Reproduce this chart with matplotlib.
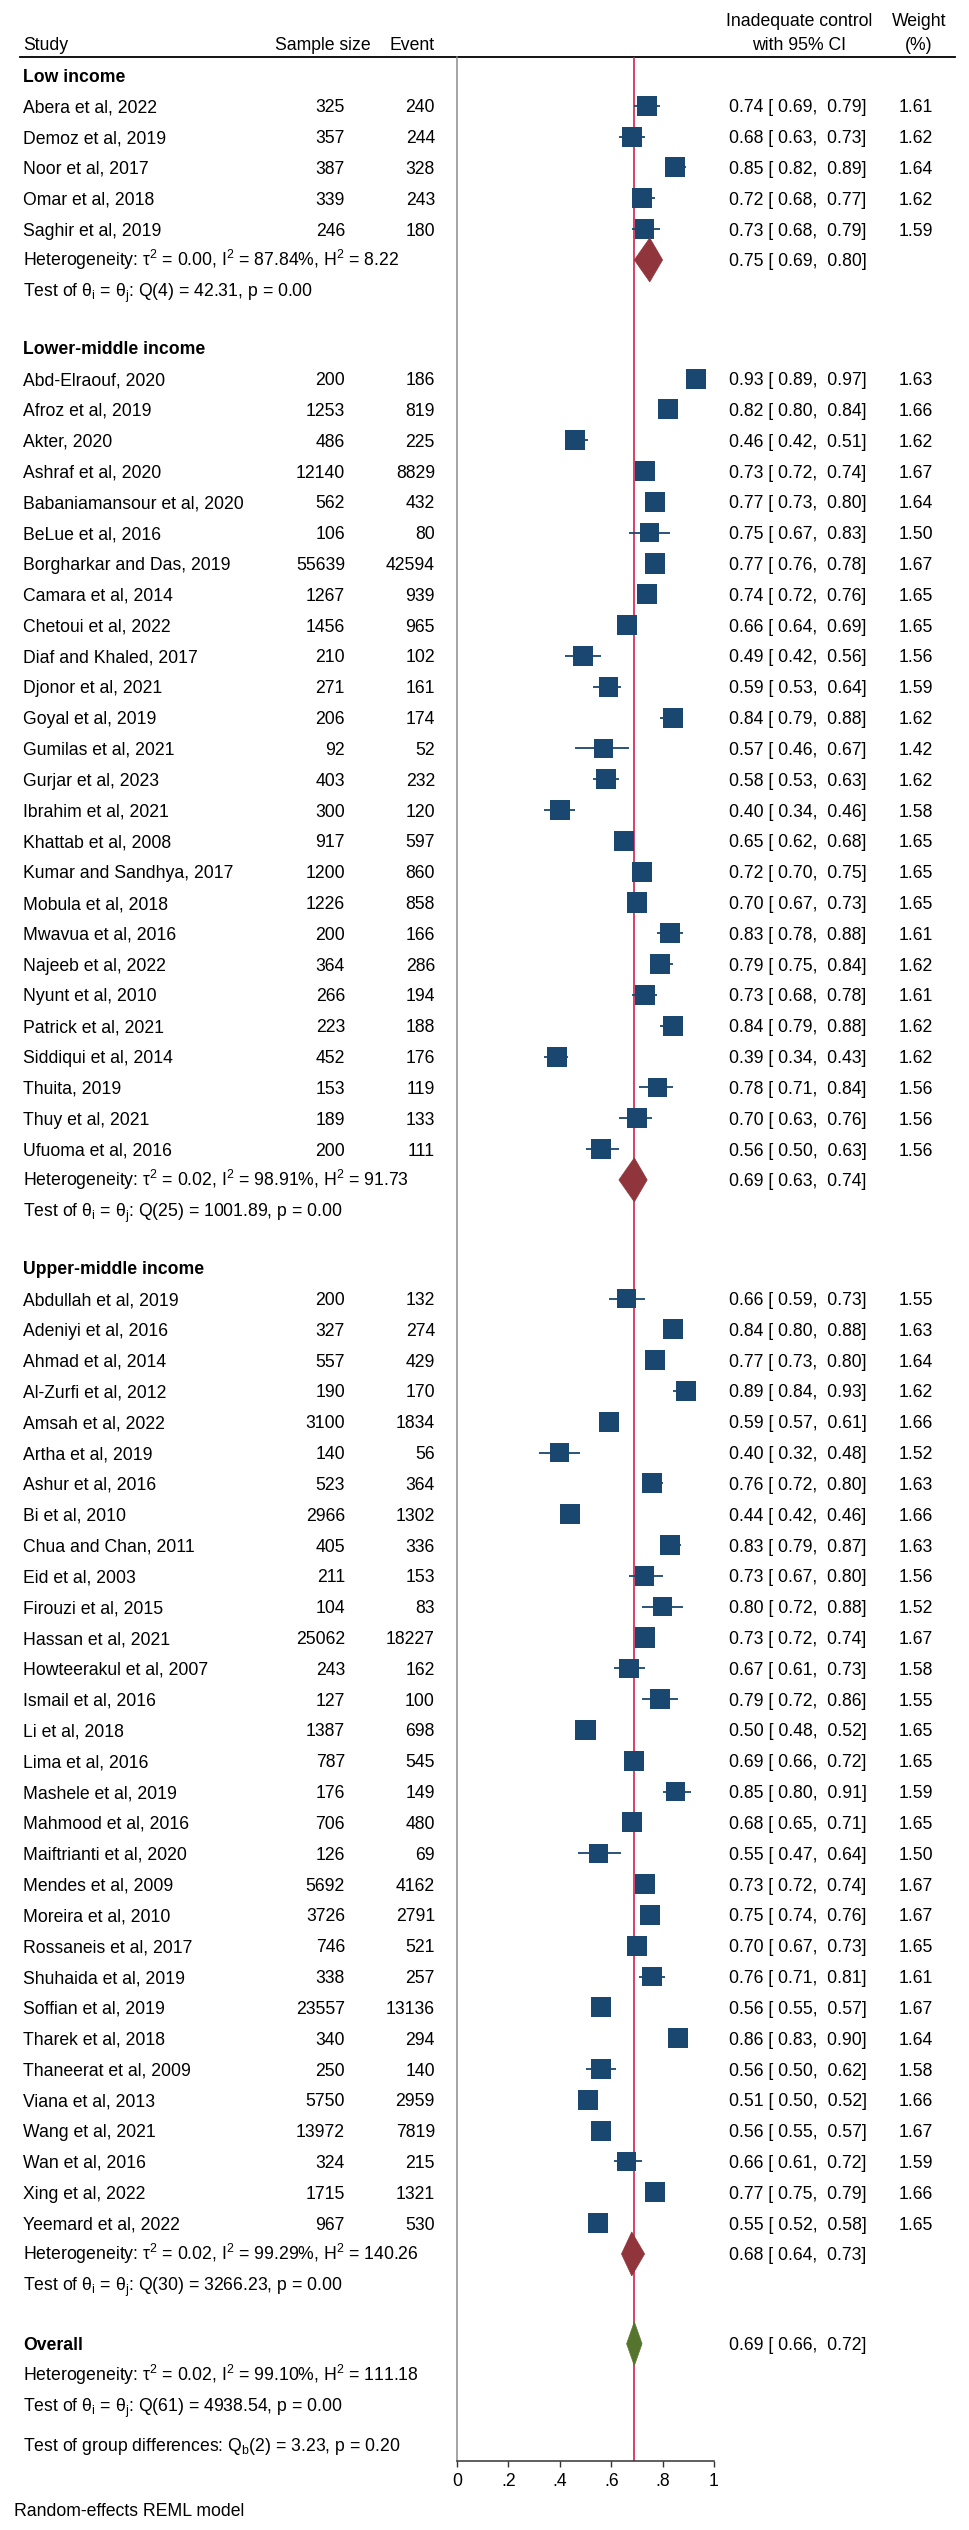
import numpy as np
import matplotlib.pyplot as plt
from matplotlib.patches import Polygon

plt.rcParams['font.family'] = ['Liberation Sans', 'DejaVu Sans']
plt.rcParams['mathtext.fontset'] = 'custom'
plt.rcParams['mathtext.rm'] = 'Liberation Sans'
plt.rcParams['mathtext.it'] = 'Liberation Sans'
plt.rcParams['mathtext.default'] = 'regular'

# ---------------- data ----------------
low_studies = ['Abera et al, 2022', 'Demoz et al, 2019', 'Noor et al, 2017',
               'Omar et al, 2018', 'Saghir et al, 2019']
low_n = [325, 357, 387, 339, 246]
low_events = [240, 244, 328, 243, 180]
low_es = [0.74, 0.68, 0.85, 0.72, 0.73]
low_lo = [0.69, 0.63, 0.82, 0.68, 0.68]
low_hi = [0.79, 0.73, 0.89, 0.77, 0.79]
low_w = [1.61, 1.62, 1.64, 1.62, 1.59]
low_pooled = [0.75, 0.69, 0.80]
low_het = ['0.00', '87.84%', '8.22']
low_q = ['4', '42.31', '0.00']

lmi_studies = ['Abd-Elraouf, 2020', 'Afroz et al, 2019', 'Akter, 2020', 'Ashraf et al, 2020',
               'Babaniamansour et al, 2020', 'BeLue et al, 2016', 'Borgharkar and Das, 2019',
               'Camara et al, 2014', 'Chetoui et al, 2022', 'Diaf and Khaled, 2017',
               'Djonor et al, 2021', 'Goyal et al, 2019', 'Gumilas et al, 2021',
               'Gurjar et al, 2023', 'Ibrahim et al, 2021', 'Khattab et al, 2008',
               'Kumar and Sandhya, 2017', 'Mobula et al, 2018', 'Mwavua et al, 2016',
               'Najeeb et al, 2022', 'Nyunt et al, 2010', 'Patrick et al, 2021',
               'Siddiqui et al, 2014', 'Thuita, 2019', 'Thuy et al, 2021', 'Ufuoma et al, 2016']
lmi_n = [200, 1253, 486, 12140, 562, 106, 55639, 1267, 1456, 210, 271, 206, 92, 403, 300,
         917, 1200, 1226, 200, 364, 266, 223, 452, 153, 189, 200]
lmi_events = [186, 819, 225, 8829, 432, 80, 42594, 939, 965, 102, 161, 174, 52, 232, 120,
              597, 860, 858, 166, 286, 194, 188, 176, 119, 133, 111]
lmi_es = [0.93, 0.82, 0.46, 0.73, 0.77, 0.75, 0.77, 0.74, 0.66, 0.49, 0.59, 0.84, 0.57,
          0.58, 0.40, 0.65, 0.72, 0.70, 0.83, 0.79, 0.73, 0.84, 0.39, 0.78, 0.70, 0.56]
lmi_lo = [0.89, 0.80, 0.42, 0.72, 0.73, 0.67, 0.76, 0.72, 0.64, 0.42, 0.53, 0.79, 0.46,
          0.53, 0.34, 0.62, 0.70, 0.67, 0.78, 0.75, 0.68, 0.79, 0.34, 0.71, 0.63, 0.50]
lmi_hi = [0.97, 0.84, 0.51, 0.74, 0.80, 0.83, 0.78, 0.76, 0.69, 0.56, 0.64, 0.88, 0.67,
          0.63, 0.46, 0.68, 0.75, 0.73, 0.88, 0.84, 0.78, 0.88, 0.43, 0.84, 0.76, 0.63]
lmi_w = [1.63, 1.66, 1.62, 1.67, 1.64, 1.50, 1.67, 1.65, 1.65, 1.56, 1.59, 1.62, 1.42,
         1.62, 1.58, 1.65, 1.65, 1.65, 1.61, 1.62, 1.61, 1.62, 1.62, 1.56, 1.56, 1.56]
lmi_pooled = [0.69, 0.63, 0.74]
lmi_het = ['0.02', '98.91%', '91.73']
lmi_q = ['25', '1001.89', '0.00']

umi_studies = ['Abdullah et al, 2019', 'Adeniyi et al, 2016', 'Ahmad et al, 2014',
               'Al-Zurfi et al, 2012', 'Amsah et al, 2022', 'Artha et al, 2019',
               'Ashur et al, 2016', 'Bi et al, 2010', 'Chua and Chan, 2011', 'Eid et al, 2003',
               'Firouzi et al, 2015', 'Hassan et al, 2021', 'Howteerakul et al, 2007',
               'Ismail et al, 2016', 'Li et al, 2018', 'Lima et al, 2016', 'Mashele et al, 2019',
               'Mahmood et al, 2016', 'Maiftrianti et al, 2020', 'Mendes et al, 2009',
               'Moreira et al, 2010', 'Rossaneis et al, 2017', 'Shuhaida et al, 2019',
               'Soffian et al, 2019', 'Tharek et al, 2018', 'Thaneerat et al, 2009',
               'Viana et al, 2013', 'Wang et al, 2021', 'Wan et al, 2016', 'Xing et al, 2022',
               'Yeemard et al, 2022']
umi_n = [200, 327, 557, 190, 3100, 140, 523, 2966, 405, 211, 104, 25062, 243, 127, 1387,
         787, 176, 706, 126, 5692, 3726, 746, 338, 23557, 340, 250, 5750, 13972, 324, 1715, 967]
umi_events = [132, 274, 429, 170, 1834, 56, 364, 1302, 336, 153, 83, 18227, 162, 100, 698,
              545, 149, 480, 69, 4162, 2791, 521, 257, 13136, 294, 140, 2959, 7819, 215, 1321, 530]
umi_es = [0.66, 0.84, 0.77, 0.89, 0.59, 0.40, 0.76, 0.44, 0.83, 0.73, 0.80, 0.73, 0.67,
          0.79, 0.50, 0.69, 0.85, 0.68, 0.55, 0.73, 0.75, 0.70, 0.76, 0.56, 0.86, 0.56,
          0.51, 0.56, 0.66, 0.77, 0.55]
umi_lo = [0.59, 0.80, 0.73, 0.84, 0.57, 0.32, 0.72, 0.42, 0.79, 0.67, 0.72, 0.72, 0.61,
          0.72, 0.48, 0.66, 0.80, 0.65, 0.47, 0.72, 0.74, 0.67, 0.71, 0.55, 0.83, 0.50,
          0.50, 0.55, 0.61, 0.75, 0.52]
umi_hi = [0.73, 0.88, 0.80, 0.93, 0.61, 0.48, 0.80, 0.46, 0.87, 0.80, 0.88, 0.74, 0.73,
          0.86, 0.52, 0.72, 0.91, 0.71, 0.64, 0.74, 0.76, 0.73, 0.81, 0.57, 0.90, 0.62,
          0.52, 0.57, 0.72, 0.79, 0.58]
umi_w = [1.55, 1.63, 1.64, 1.62, 1.66, 1.52, 1.63, 1.66, 1.63, 1.56, 1.52, 1.67, 1.58,
         1.55, 1.65, 1.65, 1.59, 1.65, 1.50, 1.67, 1.67, 1.65, 1.61, 1.67, 1.64, 1.58,
         1.66, 1.67, 1.59, 1.66, 1.65]
umi_pooled = [0.68, 0.64, 0.73]
umi_het = ['0.02', '99.29%', '140.26']
umi_q = ['30', '3266.23', '0.00']

overall_pooled = [0.69, 0.66, 0.72]
overall_het = ['0.02', '99.10%', '111.18']
overall_q = ['61', '4938.54', '0.00']
group_diff = ['2', '3.23', '0.20']

groups = [
    ('Low income', low_studies, low_n, low_events, low_es, low_lo, low_hi, low_w,
     low_pooled, low_het, low_q),
    ('Lower-middle income', lmi_studies, lmi_n, lmi_events, lmi_es, lmi_lo, lmi_hi, lmi_w,
     lmi_pooled, lmi_het, lmi_q),
    ('Upper-middle income', umi_studies, umi_n, umi_events, umi_es, umi_lo, umi_hi, umi_w,
     umi_pooled, umi_het, umi_q),
]

# ---------------- style ----------------
NAVY = '#1A476F'
MAROON = '#90353B'
GREEN = '#55752F'
REDLINE = '#D3204E'
FS = 12.7
W, H = 970, 2530
ROW = 30.82
GAP = 57
BASE = 6.5  # text centre -> baseline offset (px)

fig = plt.figure(figsize=(W / 100, H / 100), dpi=100)

# text layer in pixel coordinates
tx = fig.add_axes([0, 0, 1, 1])
tx.set_xlim(0, W)
tx.set_ylim(H, 0)
tx.axis('off')

# plot region
ax_top, ax_bot = 57, 2461
ax = fig.add_axes([457 / W, 1 - ax_bot / H, (714 - 457) / W, (ax_bot - ax_top) / H])
ax.set_xlim(0, 1)
ax.set_ylim(ax_bot, ax_top)
ax.patch.set_alpha(0)
for s in ['top', 'right']:
    ax.spines[s].set_visible(False)
ax.spines['left'].set_color('#8c8c8c')
ax.spines['left'].set_linewidth(1.1)
ax.spines['bottom'].set_color('#333333')
ax.spines['bottom'].set_linewidth(1.1)
ax.set_yticks([])
ax.set_xticks([0, 0.2, 0.4, 0.6, 0.8, 1.0])
ax.set_xticklabels(['0', '.2', '.4', '.6', '.8', '1'])
ax.tick_params(axis='x', direction='out', length=4.5, width=1.0, color='#333333',
               labelsize=FS, pad=4)


def put(x, y, s, ha='left', bold=False):
    tx.text(x, y + BASE, s, ha=ha, va='baseline', fontsize=FS,
            fontweight='bold' if bold else 'normal', color='black')


def ci_text(v):
    return '%.2f [ %.2f,  %.2f]' % (v[0], v[1], v[2])


def diamond(y, v, color):
    ax.add_patch(Polygon([(v[1], y), (v[0], y - 22), (v[2], y), (v[0], y + 22)],
                         closed=True, facecolor=color, edgecolor=color, lw=0.5, zorder=4))


def het_text(h):
    return ('Heterogeneity: \u03c4$^2$ = %s, I$^2$ = %s, H$^2$ = %s' % (h[0], h[1], h[2]))


def q_text(q):
    return ('Test of \u03b8$_i$ = \u03b8$_j$: Q(%s) = %s, p = %s' % (q[0], q[1], q[2]))


# header
put(23, 43, 'Study')
put(371, 43, 'Sample size', ha='right')
put(435, 43, 'Event', ha='right')
put(799, 19, 'Inadequate control', ha='center')
put(799, 43, 'with 95% CI', ha='center')
put(919, 19, 'Weight', ha='center')
put(919, 43, '(%)', ha='center')
tx.plot([20, 955], [57, 57], color='black', lw=1.3)

y = 75
for name, studies, n, ev, es, lo, hi, w, pooled, het, q in groups:
    put(23, y, name, bold=True)
    y += ROW
    ys = []
    for i in range(len(studies)):
        put(23, y, studies[i])
        put(345, y, str(n[i]), ha='right')
        put(435, y, str(ev[i]), ha='right')
        put(729, y, ci_text([es[i], lo[i], hi[i]]))
        put(933, y, '%.2f' % w[i], ha='right')
        ys.append(y)
        y += ROW
    ys = np.array(ys)
    ax.hlines(ys, lo, hi, color=NAVY, lw=1.3, zorder=2)
    side_px = 20 * np.sqrt(np.array(w) / 1.64)
    ax.scatter(es, ys, s=(side_px * 0.72) ** 2, marker='s', color=NAVY,
               linewidths=0, zorder=3)
    put(23, y, het_text(het))
    put(729, y, ci_text(pooled))
    diamond(y, pooled, MAROON)
    y += ROW
    put(23, y, q_text(q))
    y += GAP

# overall
y_over = y + 2
put(23, y_over, 'Overall', bold=True)
put(729, y_over, ci_text(overall_pooled))
diamond(y_over, overall_pooled, GREEN)
put(23, y_over + 31, het_text(overall_het))
put(23, y_over + 61.5, q_text(overall_q))
put(23, y_over + 101, 'Test of group differences: Q$_b$(%s) = %s, p = %s'
    % (group_diff[0], group_diff[1], group_diff[2]))

ax.axvline(overall_pooled[0], color=REDLINE, lw=1.2, zorder=1)

put(14, 2509, 'Random-effects REML model')

fig.savefig('out.png', dpi=100)
